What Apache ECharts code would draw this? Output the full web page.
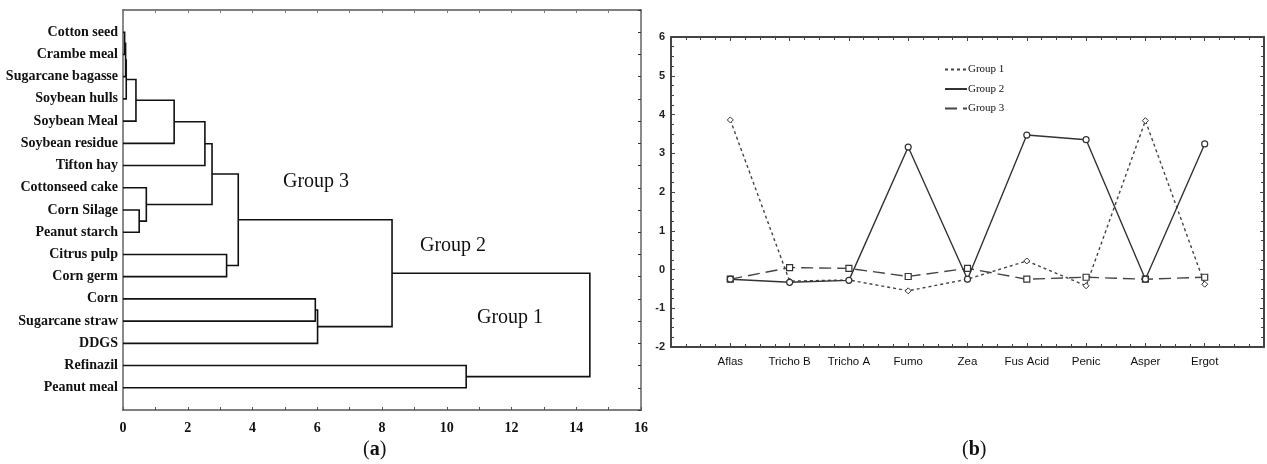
<!DOCTYPE html>
<html><head><meta charset="utf-8">
<script src="https://cdn.jsdelivr.net/npm/echarts@6/dist/echarts.min.js"></script>
<style>html,body{margin:0;padding:0;background:#fff}#c{width:1267px;height:464px}</style>
</head><body><div id="c"></div>
<script>
// ---- Panel (a): dendrogram data ----
const leaves = ['Cotton seed','Crambe meal','Sugarcane bagasse','Soybean hulls','Soybean Meal','Soybean residue','Tifton hay','Cottonseed cake','Corn Silage','Peanut starch','Citrus pulp','Corn germ','Corn','Sugarcane straw','DDGS','Refinazil','Peanut meal'];
// linkage: node ids < 17 are leaves, >= 17 are earlier merges
const mergeA = [0, 17, 18, 19, 20, 21, 8, 7, 22, 10, 25, 12, 28, 27, 15, 30];
const mergeB = [1, 2, 3, 4, 5, 6, 9, 23, 24, 11, 26, 13, 14, 29, 16, 31];
const mergeH = [0.05, 0.08, 0.10, 0.40, 1.58, 2.53, 0.50, 0.72, 2.75, 3.20, 3.56, 5.94, 6.01, 8.31, 10.60, 14.42];
const distTicks = [0, 2, 4, 6, 8, 10, 12, 14, 16];

// ---- Panel (b): profile data ----
const mycotoxins = ['Aflas','Tricho B','Tricho A','Fumo','Zea','Fus Acid','Penic','Asper','Ergot'];
const group1 = [3.86, -0.30, -0.27, -0.55, -0.25, 0.22, -0.42, 3.84, -0.38];
const group2 = [-0.25, -0.33, -0.28, 3.16, -0.25, 3.47, 3.35, -0.25, 3.24];
const group3 = [-0.25, 0.05, 0.03, -0.18, 0.03, -0.25, -0.20, -0.25, -0.20];
const yTicks = [-2, -1, 0, 1, 2, 3, 4, 5, 6];

// build dendrogram segments from linkage
const nodeY = leaves.map((_, i) => i + 1);
const nodeH = leaves.map(() => 0);
const dendro = [];
for (let k = 0; k < mergeH.length; k++) {
  const a = mergeA[k], b = mergeB[k], h = mergeH[k];
  dendro.push([nodeH[a], nodeY[a], h, nodeY[b], nodeH[b]]);
  nodeY.push((nodeY[a] + nodeY[b]) / 2);
  nodeH.push(h);
}

const serif = 'Liberation Serif';
const sans = 'Liberation Sans';
const chart = echarts.init(document.getElementById('c'), null, {renderer: 'canvas'});

chart.setOption({
  animation: false,
  backgroundColor: '#fff',
  grid: [
    {left: 123, top: 10, width: 518, height: 400, show: false},
    {left: 671, top: 37, width: 595, height: 310, show: false}
  ],
  xAxis: [
    {gridIndex: 0, type: 'value', min: 0, max: 16, interval: 2, position: 'bottom',
     axisLine: {show: true, onZero: false, lineStyle: {color: '#555', width: 1.5}},
     axisTick: {show: true, inside: true, length: 3, lineStyle: {color: '#555'}},
     minorTick: {show: true, splitNumber: 2, length: 3, lineStyle: {color: '#555'}},
     splitLine: {show: false},
     axisLabel: {margin: 11, fontFamily: serif, fontWeight: 'bold', fontSize: 14, color: '#111',
       formatter: v => distTicks.includes(v) ? String(v) : ''}},
    {gridIndex: 0, type: 'value', min: 0, max: 16, interval: 1, position: 'top',
     axisLine: {show: true, onZero: false, lineStyle: {color: '#555', width: 1.5}},
     axisTick: {show: true, inside: true, length: 3, lineStyle: {color: '#777'}},
     splitLine: {show: false}, axisLabel: {show: false}},
    {gridIndex: 1, type: 'value', min: 0, max: 10, interval: 1, position: 'bottom',
     axisLine: {show: true, onZero: false, lineStyle: {color: '#444', width: 2}},
     axisTick: {show: true, inside: true, length: 4, lineStyle: {color: '#444'}},
     minorTick: {show: true, splitNumber: 4, length: 3, lineStyle: {color: '#444'}},
     splitLine: {show: false},
     axisLabel: {margin: 9, fontFamily: sans, fontSize: 11.5, color: '#111',
       formatter: v => (v >= 1 && v <= mycotoxins.length && Number.isInteger(v)) ? mycotoxins[v - 1] : ''}},
    {gridIndex: 1, type: 'value', min: 0, max: 10, interval: 1, position: 'top',
     axisLine: {show: true, onZero: false, lineStyle: {color: '#444', width: 2}},
     axisTick: {show: true, inside: true, length: 4, lineStyle: {color: '#444'}},
     minorTick: {show: true, splitNumber: 4, length: 3, lineStyle: {color: '#444'}},
     splitLine: {show: false}, axisLabel: {show: false}}
  ],
  yAxis: [
    {gridIndex: 0, type: 'value', min: 0, max: 18, interval: 1, inverse: true, position: 'left',
     axisLine: {show: true, onZero: false, lineStyle: {color: '#8a8a8a', width: 2}},
     axisTick: {show: false}, splitLine: {show: false},
     axisLabel: {margin: 5, fontFamily: serif, fontWeight: 'bold', fontSize: 14, color: '#111',
       formatter: v => (v >= 1 && v <= leaves.length) ? leaves[v - 1] : ''}},
    {gridIndex: 0, type: 'value', min: 0, max: 18, interval: 1, inverse: true, position: 'right',
     axisLine: {show: true, onZero: false, lineStyle: {color: '#8a8a8a', width: 2}},
     axisTick: {show: true, inside: true, length: 3, lineStyle: {color: '#333'}},
     splitLine: {show: false}, axisLabel: {show: false}},
    {gridIndex: 1, type: 'value', min: -2, max: 6, interval: 1, position: 'left',
     axisLine: {show: true, onZero: false, lineStyle: {color: '#444', width: 2}},
     axisTick: {show: true, inside: true, length: 4, lineStyle: {color: '#444'}},
     minorTick: {show: true, splitNumber: 4, length: 3, lineStyle: {color: '#444'}},
     splitLine: {show: false},
     axisLabel: {margin: 6, fontFamily: sans, fontWeight: 'bold', fontSize: 11, color: '#222',
       formatter: v => yTicks.includes(v) ? String(v) : ''}},
    {gridIndex: 1, type: 'value', min: -2, max: 6, interval: 1, position: 'right',
     axisLine: {show: true, onZero: false, lineStyle: {color: '#444', width: 2}},
     axisTick: {show: true, inside: true, length: 4, lineStyle: {color: '#444'}},
     minorTick: {show: true, splitNumber: 4, length: 3, lineStyle: {color: '#444'}},
     splitLine: {show: false}, axisLabel: {show: false}}
  ],
  legend: {
    left: 939, top: 59, orient: 'vertical', itemWidth: 22, itemHeight: 10, itemGap: 8.5,
    data: ['Group 1', 'Group 2', 'Group 3'],
    itemStyle: {opacity: 0},
    textStyle: {fontFamily: serif, fontSize: 11, color: '#111', padding: [0, 0, 0, -4]}
  },
  series: [
    {type: 'custom', xAxisIndex: 0, yAxisIndex: 0, silent: true,
     encode: {x: [0, 2, 4], y: [1, 3]},
     data: dendro,
     renderItem: (params, api) => {
       const xa = api.value(0), ya = api.value(1), h = api.value(2), yb = api.value(3), xb = api.value(4);
       const pts = [api.coord([xa, ya]), api.coord([h, ya]), api.coord([h, yb]), api.coord([xb, yb])];
       return {type: 'polyline', shape: {points: pts}, style: {stroke: '#111', lineWidth: 1.6, fill: null}};
     }},
    {name: 'Group 1', type: 'line', xAxisIndex: 2, yAxisIndex: 2,
     data: group1.map((v, i) => [i + 1, v]),
     symbol: 'diamond', symbolSize: 6, showSymbol: true,
     itemStyle: {color: '#fff', borderColor: '#333', borderWidth: 1},
     lineStyle: {color: '#444', width: 1.4, type: [3, 3]}, z: 3},
    {name: 'Group 2', type: 'line', xAxisIndex: 2, yAxisIndex: 2,
     data: group2.map((v, i) => [i + 1, v]),
     symbol: 'circle', symbolSize: 6, showSymbol: true,
     itemStyle: {color: '#fff', borderColor: '#333', borderWidth: 1.2},
     lineStyle: {color: '#333', width: 1.4, type: 'solid'}, z: 4},
    {name: 'Group 3', type: 'line', xAxisIndex: 2, yAxisIndex: 2,
     data: group3.map((v, i) => [i + 1, v]),
     symbol: 'rect', symbolSize: 6, showSymbol: true,
     itemStyle: {color: '#fff', borderColor: '#333', borderWidth: 1.2},
     lineStyle: {color: '#444', width: 1.4, type: [12, 6]}, z: 3}
  ],
  graphic: [
    {type: 'text', left: 283, top: 172, style: {text: 'Group 3', fontFamily: serif, fontSize: 20, fill: '#111'}},
    {type: 'text', left: 420, top: 236, style: {text: 'Group 2', fontFamily: serif, fontSize: 20, fill: '#111'}},
    {type: 'text', left: 477, top: 308, style: {text: 'Group 1', fontFamily: serif, fontSize: 20, fill: '#111'}},
    {type: 'text', left: 363, top: 440, style: {text: '({b|a})', fontFamily: serif, fontSize: 20, fill: '#111',
      rich: {b: {fontFamily: serif, fontSize: 20, fontWeight: 'bold', fill: '#111'}}}},
    {type: 'text', left: 962, top: 440, style: {text: '({b|b})', fontFamily: serif, fontSize: 20, fill: '#111',
      rich: {b: {fontFamily: serif, fontSize: 20, fontWeight: 'bold', fill: '#111'}}}}
  ]
});
</script></body></html>
